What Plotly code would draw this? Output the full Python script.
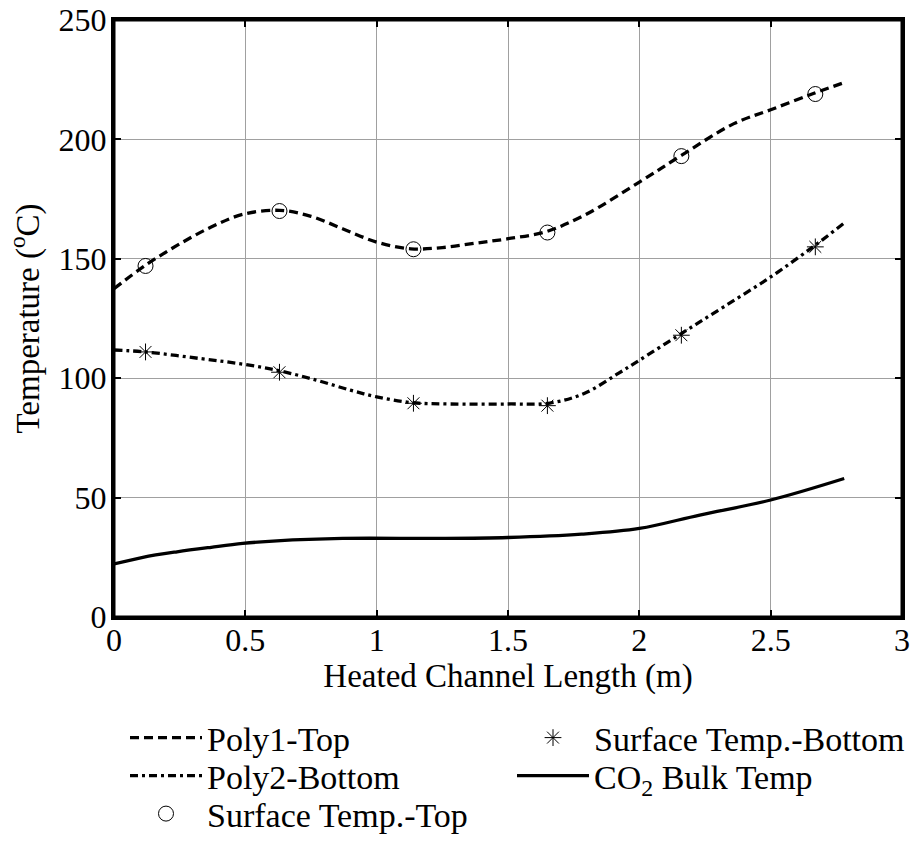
import plotly.graph_objects as go

# Fitted polynomial curve for the top surface (x in m, T in degC)
poly1_x = [0, 0.12, 0.24, 0.37, 0.49, 0.63, 0.75, 0.87, 1.0, 1.13, 1.25, 1.38,
           1.5, 1.64, 1.79, 2.0, 2.16, 2.36, 2.5, 2.66, 2.78]
poly1_y = [137.5, 147.3, 155.6, 163.3, 168.6, 170.3, 167.8, 162.6, 157.0, 154.2,
           154.7, 156.6, 158.4, 161.2, 168.2, 182.1, 193.3, 206.6, 212.4, 219.1, 223.8]

# Fitted polynomial curve for the bottom surface
poly2_x = [0, 0.12, 0.33, 0.49, 0.63, 0.77, 0.9, 1.0, 1.13, 1.28, 1.5, 1.66,
           1.79, 1.92, 2.0, 2.16, 2.32, 2.5, 2.66, 2.78]
poly2_y = [111.8, 111.0, 108.2, 105.9, 103.1, 99.2, 95.0, 92.2, 89.8, 89.2, 89.2,
           89.6, 93.6, 102.0, 107.5, 118.7, 129.8, 142.4, 154.9, 165.0]

# Measured surface temperatures at the thermocouple stations
station_x = [0.12, 0.63, 1.14, 1.65, 2.16, 2.67]
surf_top = [147, 170, 154, 161, 193, 219]
surf_bottom = [111, 102.5, 89.5, 88.5, 118, 155]

# CO2 bulk temperature along the channel
bulk_x = [0, 0.11, 0.24, 0.37, 0.49, 0.62, 0.87, 1.25, 1.5, 1.78, 2.0, 2.23, 2.5, 2.78]
bulk_y = [22.2, 25.0, 27.3, 29.2, 30.8, 31.9, 32.9, 32.9, 33.3, 34.7, 37.1, 42.7, 49.0, 58.0]

FONT = "Liberation Serif"
W, H = 915, 846
# page margins; the plot itself ends 13 px from the right edge via the x domain
ML, MR, MT, MB = 114, 1, 20, 229
PW, PH = W - ML - MR, H - MT - MB
PLOT_RIGHT = 902

fig = go.Figure()
fig.add_trace(go.Scatter(
    x=poly1_x, y=poly1_y, mode="lines", name="Poly1-Top",
    line=dict(color="black", width=3.3, dash="9px,5px", shape="spline"),
    legend="legend"))
fig.add_trace(go.Scatter(
    x=poly2_x, y=poly2_y, mode="lines", name="Poly2-Bottom",
    line=dict(color="black", width=3.3, dash="8px,4px,3px,4px", shape="spline"),
    legend="legend2"))
fig.add_trace(go.Scatter(
    x=station_x, y=surf_top, mode="markers", name="Surface Temp.-Top",
    marker=dict(symbol="circle-open", size=15, color="black", line=dict(width=1)),
    legend="legend3"))
fig.add_trace(go.Scatter(
    x=station_x, y=surf_bottom, mode="markers", name="Surface Temp.-Bottom",
    marker=dict(symbol="asterisk-open", size=14, color="black", line=dict(width=1, color="#333333")),
    legend="legend4"))
fig.add_trace(go.Scatter(
    x=bulk_x, y=bulk_y, mode="lines", name="CO<sub>2</sub> Bulk Temp",
    line=dict(color="black", width=3.3, shape="spline"),
    legend="legend5"))

axis_common = dict(
    automargin=False,
    showline=True, linecolor="black", linewidth=3, mirror="ticks",
    ticks="inside", ticklen=7, tickwidth=2, tickcolor="black",
    showgrid=True, gridcolor="#a0a0a0", gridwidth=1, zeroline=False,
    tickfont=dict(family=FONT, size=32, color="black"),
)


def legend_box(x_px, y_px):
    # one legend entry, centred vertically on the given pixel row
    return dict(x=(x_px - ML) / PW, y=(H - MB - y_px) / PH,
                xanchor="left", yanchor="middle", bgcolor="rgba(0,0,0,0)",
                font=dict(family=FONT, size=34, color="black"), itemwidth=72)


fig.update_layout(
    template="none",
    width=W, height=H,
    margin=dict(l=ML, r=MR, t=MT, b=MB),
    paper_bgcolor="white", plot_bgcolor="white",
    font=dict(family=FONT, size=32, color="black"),
    xaxis=dict(range=[0, 3], dtick=0.5, domain=[0, (PLOT_RIGHT - ML) / PW],
               ticklabelstandoff=-7,
               title=dict(text="Heated Channel Length (m)", standoff=7,
                          font=dict(family=FONT, size=33)),
               **axis_common),
    yaxis=dict(range=[0, 250], dtick=50, ticklabelstandoff=-2,
               title=dict(text="Temperature (<sup>o</sup>C)", standoff=10,
                          font=dict(family=FONT, size=33)),
               **axis_common),
    legend=legend_box(125, 738),
    legend2=legend_box(125, 776),
    legend3=legend_box(125, 814),
    legend4=legend_box(512, 738),
    legend5=legend_box(512, 776),
    showlegend=True,
)

# heavy box around the axes
fig.add_shape(type="rect", xref="x domain", yref="y domain",
              x0=0, x1=1, y0=0, y1=1, layer="above",
              line=dict(color="black", width=3), fillcolor="rgba(0,0,0,0)")

fig.write_html("out.html")
